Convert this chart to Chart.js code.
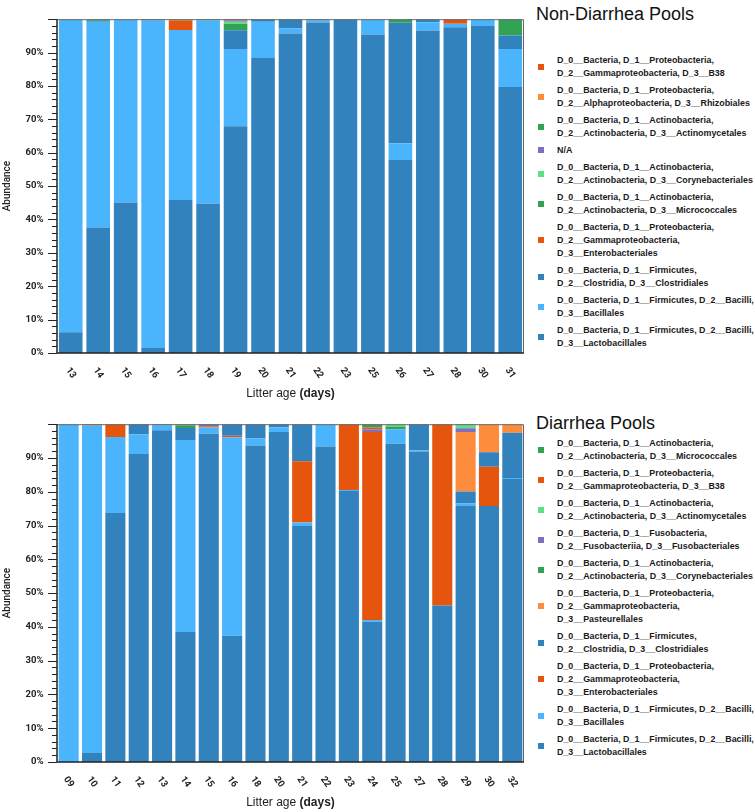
<!DOCTYPE html>
<html>
<head>
<meta charset="utf-8">
<script src="https://cdn.jsdelivr.net/npm/chart.js@4.4.1/dist/chart.umd.min.js"></script>
<style>
body { margin: 0; background: #fff; }
#wrap { position: relative; width: 755px; height: 812px; overflow: hidden; }
canvas { position: absolute; left: 0; }
.ltitle { position: absolute; left: 536px; font: 18px "Liberation Sans", Arial, sans-serif; line-height: 20px; color: #111; white-space: nowrap; }
.legend { position: absolute; left: 536px; width: 219px; }
.item { position: relative; padding-left: 21px; margin-bottom: 4px; font: bold 8.9px "Liberation Sans", Arial, sans-serif; line-height: 13px; color: #1a1a1a; white-space: nowrap; }
.item i { position: absolute; left: 2px; top: 50%; width: 6px; height: 6px; margin-top: -3px; }
</style>
</head>
<body>
<div id="wrap">
  <canvas id="nonDiarrhea" width="530" height="405" style="top:0"></canvas>
  <canvas id="diarrhea" width="530" height="407" style="top:405px"></canvas>
  <div class="ltitle" style="top:4px">Non-Diarrhea Pools</div>
  <div class="legend" id="legendTop" style="top:53.5px"></div>
  <div class="ltitle" style="top:413px">Diarrhea Pools</div>
  <div class="legend" id="legendBottom" style="top:436.5px"></div>
</div>
<script>
// Non-diarrhea pools (days and % abundance per order)
const ndDays = ["13","14","15","16","17","18","19","20","21","22","23","25","26","27","28","30","31"];
const ndLacto  = [6.2, 37.6, 45.1, 1.5, 45.8, 44.7, 67.9, 88.4, 95.7, 99.0, 100, 95.4, 57.8, 96.6, 97.6, 98.0, 79.7];
const ndBac    = [93.8, 61.6, 54.9, 98.1, 51.0, 55.0, 23.2, 10.8, 1.5, 0.6, 0, 4.6, 5.0, 2.5, 1.0, 2.0, 11.4];
const ndClos   = [0, 0.3, 0, 0.4, 0, 0, 5.6, 0.8, 2.8, 0.4, 0, 0, 36.1, 0.9, 0, 0, 4.0];
const ndEntero = [0, 0, 0, 0, 2.8, 0, 0, 0, 0, 0, 0, 0, 0, 0, 1.4, 0, 0];
const ndMicro  = [0, 0.5, 0, 0, 0.2, 0.3, 1.9, 0, 0, 0, 0, 0, 1.1, 0, 0, 0, 4.9];
const ndCoryne = [0, 0, 0, 0, 0, 0, 0.6, 0, 0, 0, 0, 0, 0, 0, 0, 0, 0];
const ndNA     = [0, 0, 0, 0, 0, 0, 0.4, 0, 0, 0, 0, 0, 0, 0, 0, 0, 0];
const ndActino = [0, 0, 0, 0, 0, 0, 0, 0, 0, 0, 0, 0, 0, 0, 0, 0, 0];
const ndRhizo  = [0, 0, 0, 0, 0.2, 0, 0, 0, 0, 0, 0, 0, 0, 0, 0, 0, 0];
const ndB38    = [0, 0, 0, 0, 0, 0, 0.4, 0, 0, 0, 0, 0, 0, 0, 0, 0, 0];

// Diarrhea pools
const dDays = ["09","10","11","12","13","14","15","16","18","20","21","22","23","24","25","27","28","29","30","32"];
const dLacto   = [0, 2.7, 73.7, 91.2, 98.2, 38.5, 97.2, 37.4, 93.7, 97.7, 69.9, 93.4, 80.2, 41.5, 94.2, 91.9, 46.3, 75.8, 75.8, 83.8];
const dBac     = [100, 96.9, 22.5, 5.8, 1.4, 56.8, 1.8, 58.7, 2.1, 1.4, 1.0, 6.6, 0.3, 0.5, 4.3, 0.3, 0, 0.7, 0, 0.3];
const dEntero  = [0, 0.4, 3.8, 0, 0, 0, 0.4, 0.5, 0, 0, 18.1, 0, 19.5, 55.7, 0, 0, 53.7, 0, 11.6, 0];
const dClos    = [0, 0, 0, 3.0, 0.4, 3.6, 0, 3.4, 4.2, 0.9, 11.0, 0, 0, 0, 0, 7.8, 0, 3.6, 4.3, 13.4];
const dPasteur = [0, 0, 0, 0, 0, 0, 0, 0, 0, 0, 0, 0, 0, 0, 0, 0, 0, 17.6, 8.3, 2.5];
const dCoryne  = [0, 0, 0, 0, 0, 0.7, 0, 0, 0, 0, 0, 0, 0, 0, 0.8, 0, 0, 0, 0, 0];
const dFuso    = [0, 0, 0, 0, 0, 0, 0.6, 0, 0, 0, 0, 0, 0, 0.7, 0, 0, 0, 1.1, 0, 0];
const dActino  = [0, 0, 0, 0, 0, 0, 0, 0, 0, 0, 0, 0, 0, 0, 0.7, 0, 0, 0.8, 0, 0];
const dB38     = [0, 0, 0, 0, 0, 0, 0, 0, 0, 0, 0, 0, 0, 0.6, 0, 0, 0, 0, 0, 0];
const dMicro   = [0, 0, 0, 0, 0, 0.4, 0, 0, 0, 0, 0, 0, 0, 1.0, 0, 0, 0, 0.4, 0, 0];

const yTicks = [0, 10, 20, 30, 40, 50, 60, 70, 80, 90, 100];

// legend texts
const L = {
  lacto: ["D_0__Bacteria, D_1__Firmicutes, D_2__Bacilli,", "D_3__Lactobacillales"],
  bac: ["D_0__Bacteria, D_1__Firmicutes, D_2__Bacilli,", "D_3__Bacillales"],
  clos: ["D_0__Bacteria, D_1__Firmicutes,", "D_2__Clostridia, D_3__Clostridiales"],
  entero: ["D_0__Bacteria, D_1__Proteobacteria,", "D_2__Gammaproteobacteria,", "D_3__Enterobacteriales"],
  micro: ["D_0__Bacteria, D_1__Actinobacteria,", "D_2__Actinobacteria, D_3__Micrococcales"],
  coryne: ["D_0__Bacteria, D_1__Actinobacteria,", "D_2__Actinobacteria, D_3__Corynebacteriales"],
  na: ["N/A"],
  actino: ["D_0__Bacteria, D_1__Actinobacteria,", "D_2__Actinobacteria, D_3__Actinomycetales"],
  rhizo: ["D_0__Bacteria, D_1__Proteobacteria,", "D_2__Alphaproteobacteria, D_3__Rhizobiales"],
  b38: ["D_0__Bacteria, D_1__Proteobacteria,", "D_2__Gammaproteobacteria, D_3__B38"],
  paste: ["D_0__Bacteria, D_1__Proteobacteria,", "D_2__Gammaproteobacteria,", "D_3__Pasteurellales"],
  fuso: ["D_0__Bacteria, D_1__Fusobacteria,", "D_2__Fusobacteriia, D_3__Fusobacteriales"]
};

const blue = "#3182bd", lightBlue = "#4ab5fd", red = "#e6550d", orange = "#fd8d3c",
      green = "#31a354", lightGreen = "#5ae184", purple = "#7b6fbf";

// bottom of the stack first
const ndSets = [
  [L.lacto, ndLacto, blue], [L.bac, ndBac, lightBlue], [L.clos, ndClos, blue],
  [L.entero, ndEntero, red], [L.micro, ndMicro, green], [L.coryne, ndCoryne, lightGreen],
  [L.na, ndNA, purple], [L.actino, ndActino, green], [L.rhizo, ndRhizo, orange], [L.b38, ndB38, red]
];
const dSets = [
  [L.lacto, dLacto, blue], [L.bac, dBac, lightBlue], [L.entero, dEntero, red],
  [L.clos, dClos, blue], [L.paste, dPasteur, orange], [L.coryne, dCoryne, green],
  [L.fuso, dFuso, purple], [L.actino, dActino, lightGreen], [L.b38, dB38, red], [L.micro, dMicro, green]
];

const axisDecor = {
  id: 'axisDecor',
  afterDraw(chart) {
    const {ctx, chartArea: a, scales: {x, y}} = chart;
    ctx.save();
    // frame
    ctx.strokeStyle = '#666';
    ctx.lineWidth = 1;
    ctx.beginPath();
    ctx.moveTo(a.left, a.top + 0.5);
    ctx.lineTo(a.right - 0.5, a.top + 0.5);
    ctx.lineTo(a.right - 0.5, a.bottom);
    ctx.stroke();
    ctx.strokeStyle = '#222';
    ctx.lineWidth = 1.5;
    ctx.beginPath();
    ctx.moveTo(a.left, a.top);
    ctx.lineTo(a.left, a.bottom);
    ctx.lineTo(a.right, a.bottom);
    ctx.stroke();
    // major + minor ticks on y
    ctx.lineWidth = 1;
    for (let v = 0; v <= 100; v += 2) {
      const py = Math.round(y.getPixelForValue(v)) + 0.5;
      const len = v % 10 === 0 ? 9 : 5;
      ctx.beginPath();
      ctx.moveTo(a.left - len, py);
      ctx.lineTo(a.left, py);
      ctx.stroke();
    }
    // slanted day labels
    ctx.font = 'bold 9.5px Roboto';
    ctx.fillStyle = '#222';
    ctx.textAlign = 'center';
    ctx.textBaseline = 'middle';
    chart.data.labels.forEach((lab, i) => {
      ctx.save();
      ctx.translate(x.getPixelForTick(i), a.bottom + 20);
      ctx.rotate(55 * Math.PI / 180);
      ctx.fillText(lab, 0, 0);
      ctx.restore();
    });
    // axis title, "(days)" bold
    const t1 = 'Litter age ', t2 = '(days)';
    ctx.textAlign = 'left';
    ctx.font = '12px "Liberation Sans"';
    const w1 = ctx.measureText(t1).width;
    ctx.font = 'bold 12px "Liberation Sans"';
    const w2 = ctx.measureText(t2).width;
    const sx = (a.left + a.right) / 2 - (w1 + w2) / 2;
    const ty = a.bottom + 40.5;
    ctx.font = '12px "Liberation Sans"';
    ctx.fillText(t1, sx, ty);
    ctx.font = 'bold 12px "Liberation Sans"';
    ctx.fillText(t2, sx + w1, ty);
    ctx.restore();
  }
};

function makeChart(id, days, sets, padTop, xHeight) {
  return new Chart(document.getElementById(id), {
    type: 'bar',
    data: {
      labels: days,
      datasets: sets.map(s => ({
        label: s[0].join(' '),
        data: s[1],
        backgroundColor: s[2],
        borderWidth: 0,
        barPercentage: 0.86,
        categoryPercentage: 1
      }))
    },
    options: {
      responsive: false,
      animation: false,
      devicePixelRatio: 1,
      layout: { padding: { top: padTop, right: 6, left: 0, bottom: 0 } },
      plugins: { legend: { display: false }, tooltip: { enabled: false } },
      scales: {
        x: {
          stacked: true,
          grid: { display: false, drawTicks: false },
          border: { display: false },
          ticks: { display: false },
          afterFit: s => { s.height = xHeight; }
        },
        y: {
          stacked: true,
          min: 0,
          max: 100,
          afterBuildTicks: s => { s.ticks = yTicks.map(v => ({ value: v })); },
          grid: { display: false, drawTicks: false },
          border: { display: false },
          ticks: {
            padding: 13.5,
            color: '#222',
            font: { family: 'Roboto', size: 9.5, weight: 'bold' },
            callback: v => v === 100 ? '' : v + '%'
          },
          title: {
            display: true,
            text: 'Abundance',
            color: '#222',
            font: { family: 'Roboto', size: 10, weight: '500' },
            padding: { top: 1.5, bottom: 0 }
          },
          afterFit: s => { s.width = 57; }
        }
      }
    },
    plugins: [axisDecor]
  });
}

function makeLegend(id, sets) {
  const box = document.getElementById(id);
  sets.slice().reverse().forEach(s => {
    const div = document.createElement('div');
    div.className = 'item';
    const mark = document.createElement('i');
    mark.style.background = s[2];
    div.appendChild(mark);
    s[0].forEach((line, k) => {
      if (k) div.appendChild(document.createElement('br'));
      div.appendChild(document.createTextNode(line));
    });
    box.appendChild(div);
  });
}

makeChart('nonDiarrhea', ndDays, ndSets, 3, 52);
makeChart('diarrhea', dDays, dSets, 7, 50);
makeLegend('legendTop', ndSets);
makeLegend('legendBottom', dSets);
</script>
</body>
</html>
